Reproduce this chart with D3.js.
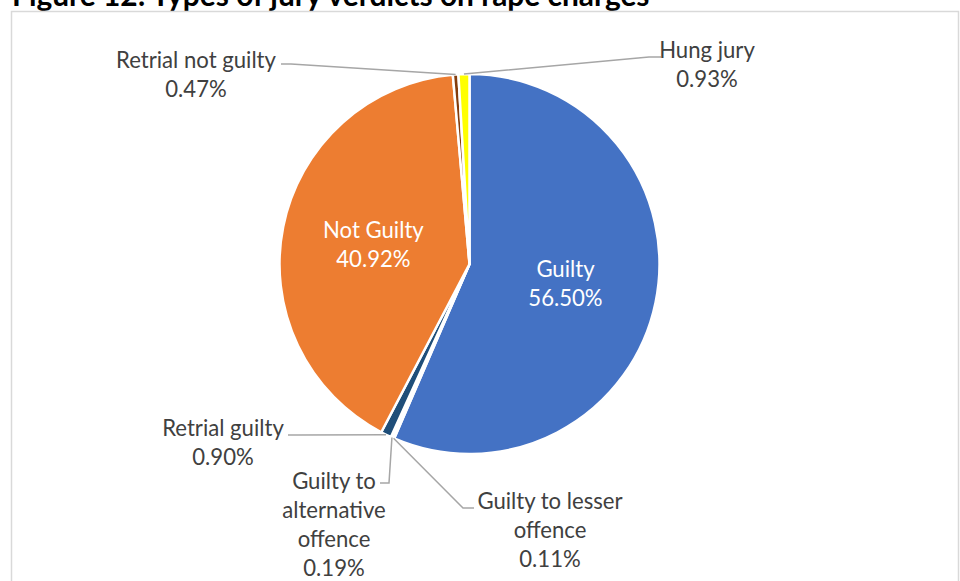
<!DOCTYPE html>
<html>
<head>
<meta charset="utf-8">
<script src="https://cdn.jsdelivr.net/npm/d3@7"></script>
<style>
  body { margin: 0; background: #fff; }
  svg { display: block; font-family: Lato, "Open Sans", sans-serif; }
</style>
</head>
<body>
<script>
// data
var categories = ['Guilty', 'Guilty to lesser offence', 'Guilty to alternative offence',
                  'Retrial guilty', 'Not Guilty', 'Retrial not guilty', 'Hung jury'];
var values = [56.50, 0.11, 0.19, 0.90, 40.92, 0.47, 0.93];
var sliceColors = ['#4472C4', '#A5A5A5', '#70AD47', '#1F4E79', '#ED7D31', '#843C0C', '#FFFF00'];
var titleText = 'Figure 12: Types of jury verdicts on rape charges';

var width = 960;
var height = 581;
var cx = 469.5;
var cy = 264;
var radius = 190;
var lineH = 29;

// label layout (Excel labels were placed by hand)
var layout = {
  'Guilty':                        {inside: true, lines: ['Guilty']},
  'Not Guilty':                    {inside: true, lines: ['Not Guilty']},
  'Retrial not guilty':            {x: 196, y: 60,  lines: ['Retrial not guilty'], leader: [[281, 64], [291, 64]]},
  'Hung jury':                     {x: 707, y: 50,  lines: ['Hung jury'], leader: [[661, 57], [649, 57]]},
  'Retrial guilty':                {x: 223, y: 428, lines: ['Retrial guilty'], leader: [[288, 435], [298, 435]]},
  'Guilty to alternative offence': {x: 334, y: 481, lines: ['Guilty to', 'alternative', 'offence'], leader: [[380, 483], [389, 483]]},
  'Guilty to lesser offence':      {x: 550, y: 501, lines: ['Guilty to lesser', 'offence'], leader: [[474, 508], [463, 508]]}
};

var svg = d3.select('body').append('svg')
  .attr('width', width)
  .attr('height', height);

// fit the substitute font to the width of Calibri in the picture
var probe = svg.append('text').attr('font-size', 24).text('Retrial not guilty');
var fontSize = 24 * 160 / probe.node().getComputedTextLength();
probe.remove();
var probeT = svg.append('text').attr('font-size', 26).attr('font-weight', 'bold').text(titleText);
var titleSize = 26 * 638 / probeT.node().getComputedTextLength();
probeT.remove();

svg.append('text')
  .attr('x', 12)
  .attr('y', 6)
  .attr('font-size', titleSize)
  .attr('font-weight', 'bold')
  .attr('fill', '#000')
  .text(titleText);

// chart frame
svg.append('rect')
  .attr('x', 11.5)
  .attr('y', 11.5)
  .attr('width', 947)
  .attr('height', 600)
  .attr('fill', 'none')
  .attr('stroke', '#D9D9D9')
  .attr('stroke-width', 1.5);

var data = categories.map(function(c, i) { return {name: c, value: values[i], color: sliceColors[i]}; });

var pie = d3.pie().sort(null).value(function(d) { return d.value; });
var arcs = pie(data);
var arc = d3.arc().innerRadius(0).outerRadius(radius);
var labelArc = d3.arc().innerRadius(98).outerRadius(98);

var g = svg.append('g').attr('transform', 'translate(' + cx + ',' + cy + ')');

g.selectAll('path')
  .data(arcs)
  .enter()
  .append('path')
  .attr('d', arc)
  .attr('fill', function(d) { return d.data.color; })
  .attr('stroke', '#fff')
  .attr('stroke-width', 2.5)
  .attr('stroke-linejoin', 'round');

function edgePoint(d) {
  var a = (d.startAngle + d.endAngle) / 2;
  return [cx + radius * Math.sin(a), cy - radius * Math.cos(a)];
}

// leader lines
var outside = arcs.filter(function(d) { return !layout[d.data.name].inside; });
svg.append('g').selectAll('polyline')
  .data(outside)
  .enter()
  .append('polyline')
  .attr('points', function(d) {
    var pts = layout[d.data.name].leader.concat([edgePoint(d)]);
    return pts.map(function(p) { return p.join(','); }).join(' ');
  })
  .attr('fill', 'none')
  .attr('stroke', '#A6A6A6')
  .attr('stroke-width', 1.5);

// labels
arcs.forEach(function(d) {
  var L = layout[d.data.name];
  var lines = L.lines.concat([d3.format('.2f')(d.data.value) + '%']);
  var x, y, fill;
  if (L.inside) {
    var c = labelArc.centroid(d);
    x = cx + c[0];
    y = cy + c[1] - (lines.length - 1) * lineH / 2;
    fill = '#fff';
  } else {
    x = L.x;
    y = L.y;
    fill = '#404040';
  }
  svg.append('g').selectAll('text')
    .data(lines)
    .enter()
    .append('text')
    .attr('x', x)
    .attr('y', function(t, i) { return y + i * lineH; })
    .attr('dy', '0.35em')
    .attr('text-anchor', 'middle')
    .attr('font-size', fontSize)
    .attr('fill', fill)
    .text(function(t) { return t; });
});
</script>
</body>
</html>
